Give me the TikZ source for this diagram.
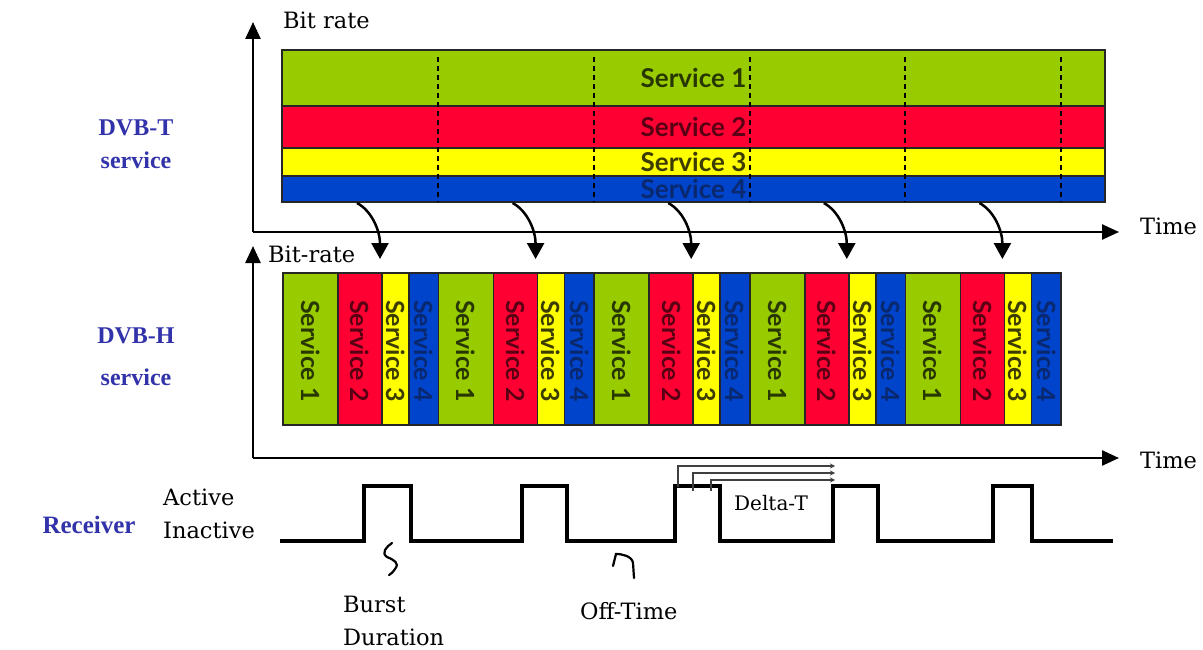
\documentclass[tikz,border=0pt]{standalone}
\usepackage{fontspec}
\setmainfont{DejaVu Serif}
\newfontfamily\lblfont{Liberation Serif}
\newfontfamily\svcfont{Lato}
\usetikzlibrary{arrows.meta}
\definecolor{sgreen}{RGB}{153,204,0}
\definecolor{sred}{RGB}{255,0,51}
\definecolor{syellow}{RGB}{255,255,0}
\definecolor{sblue}{RGB}{0,68,204}
\definecolor{tgreen}{RGB}{40,55,0}
\definecolor{tred}{RGB}{90,0,20}
\definecolor{tyellow}{RGB}{60,60,0}
\definecolor{tblue}{RGB}{10,40,110}
\definecolor{lblue}{RGB}{50,50,170}
\begin{document}
\begin{tikzpicture}[x=1pt,y=-1pt,
  axis/.style={line width=2.5pt,-{Triangle[length=17pt,width=15pt]}},
  band/.style={draw=black!85,line width=1.5pt,inner sep=0pt,minimum width=823pt},
  hbar/.style={draw=black!85,line width=1.5pt,inner sep=0pt,minimum height=152pt},
  svc/.style={font=\svcfont\bfseries\fontsize{26}{26}\selectfont,inner sep=0pt},
  vsvc/.style={font=\svcfont\bfseries\fontsize{25}{25}\selectfont,inner sep=0pt,rotate=-90},
  lbl/.style={font=\fontsize{22.5}{26}\selectfont,inner sep=0pt},
  side/.style={font=\lblfont\bfseries\fontsize{24}{26}\selectfont,text=lblue,inner sep=0pt},
  curv/.style={line width=2.5pt,-{Triangle[length=16pt,width=17pt]}},
  wave/.style={line width=3.5pt,line join=miter},
  dt/.style={draw=black!75,line width=2pt,-{Stealth[length=5pt,width=5pt]}},
  squig/.style={line width=2.2pt,line cap=round}]
\useasboundingbox (0,0) rectangle (1203,650);
\fill[white] (0,0) rectangle (1203,650);

% ---- top band (DVB-T)
\node[band,fill=sgreen,minimum height=56pt] (t1) at (693.5,78) {};
\node[band,fill=sred,minimum height=42pt] (t2) at (693.5,127) {};
\node[band,fill=syellow,minimum height=28pt] (t3) at (693.5,162) {};
\node[band,fill=sblue,minimum height=26pt] (t4) at (693.5,189) {};
\draw[line width=2pt,black!85] (282,50) rectangle (1105,202);
\node[svc,text=tgreen] (st1) at (t1) {Service 1};
\node[svc,text=tred] (st2) at (t2) {Service 2};
\node[svc,text=tyellow] (st3) at (t3) {Service 3};
\node[svc,text=tblue] (st4) at (t4) {Service 4};
\foreach \dx in {438,594,750,905,1061}
  \draw[line width=2pt,dash pattern=on 5pt off 4pt] (\dx,57) -- (\dx,202);

% ---- upper axes
\coordinate (o1) at (253,232);
\coordinate (y1) at (253,22);
\coordinate (x1) at (1119,232);
\draw[axis] (o1) -- (y1);
\draw[axis] (o1) -- (x1);
\node[lbl,anchor=west] (br1) at (283,20) {Bit rate};
\node[lbl,anchor=west] (tm1) at (1140,226) {Time};

% ---- DVB-H bars
\foreach \k in {0,...,4}{
  \pgfmathsetmacro\xa{283+155.6*\k}
  \node[hbar,fill=sgreen,minimum width=55pt] (g\k) at (\xa+27.5,349) {};
  \node[hbar,fill=sred,minimum width=44pt] (r\k) at (\xa+77,349) {};
  \node[hbar,fill=syellow,minimum width=27pt] (y\k) at (\xa+112.5,349) {};
  \node[hbar,fill=sblue,minimum width=29.6pt] (b\k) at (\xa+140.8,349) {};
  \node[vsvc,text=tgreen] (gt\k) at ([yshift=-2pt]g\k.center) {Service 1};
  \node[vsvc,text=tred] (rt\k) at ([yshift=-2pt]r\k.center) {Service 2};
  \node[vsvc,text=tyellow] (yt\k) at ([yshift=-2pt]y\k.center) {Service 3};
  \node[vsvc,text=tblue] (bt\k) at ([yshift=-2pt]b\k.center) {Service 4};
  \coordinate (s\k) at (357+155.6*\k,203);
  \coordinate (e\k) at (380+155.6*\k,259);
  \draw[curv] (s\k) .. controls +(15,8) and +(0,-28) .. (e\k);
}

% ---- lower axes
\coordinate (o2) at (253,458);
\coordinate (y2) at (253,246);
\coordinate (x2) at (1119,458);
\draw[axis] (o2) -- (y2);
\draw[axis] (o2) -- (x2);
\node[lbl,anchor=west] (br2) at (268,254) {Bit-rate};
\node[lbl,anchor=west] (tm2) at (1140,460) {Time};

% ---- side labels
\node[side] (dt1) at (136,128) {DVB-T};
\node[side] (dt2) at (136,160) {service};
\node[side] (dh1) at (136,336) {DVB-H};
\node[side] (dh2) at (136,377) {service};
\node[side,font=\lblfont\bfseries\fontsize{25}{28}\selectfont] (rcv) at (89,525) {Receiver};

% ---- receiver waveform
\draw[wave] (280,541) -- (364,541) -- (364,486) -- (411,486) -- (411,541)
  -- (522,541) -- (522,486) -- (567,486) -- (567,541)
  -- (675,541) -- (675,486) -- (720,486) -- (720,541)
  -- (833,541) -- (833,486) -- (878,486) -- (878,541)
  -- (993,541) -- (993,486) -- (1032,486) -- (1032,541) -- (1113,541);
\node[lbl,anchor=west] (act) at (163,497) {Active};
\node[lbl,anchor=west] (inact) at (163,530) {Inactive};

% ---- Delta-T
\coordinate (d1a) at (678,487);
\coordinate (d1b) at (835,466);
\coordinate (d2a) at (693,491);
\coordinate (d2b) at (835,473);
\coordinate (d3a) at (711,491);
\coordinate (d3b) at (835,480);
\draw[dt] (d1a) |- (d1b);
\draw[dt] (d2a) |- (d2b);
\draw[dt] (d3a) |- (d3b);
\node[font=\fontsize{20}{22}\selectfont,inner sep=0pt] (dlt) at (771,503) {Delta-T};

% ---- squiggles and notes
\draw[squig] (392,543) .. controls (386,547) and (381,553) .. (387,557)
  .. controls (394,560) and (400,563) .. (395,569) .. controls (393,572) and (391,574) .. (389,575);
\draw[squig] (613,566) -- (616,554) .. controls (622,554) and (632,556) .. (633,563) -- (634,578);
\node[lbl,anchor=base west] (bur) at (343,612) {Burst};
\node[lbl,anchor=base west] (dur) at (343,645) {Duration};
\node[lbl,anchor=base west] (off) at (580,619) {Off-Time};
\end{tikzpicture}
\end{document}
